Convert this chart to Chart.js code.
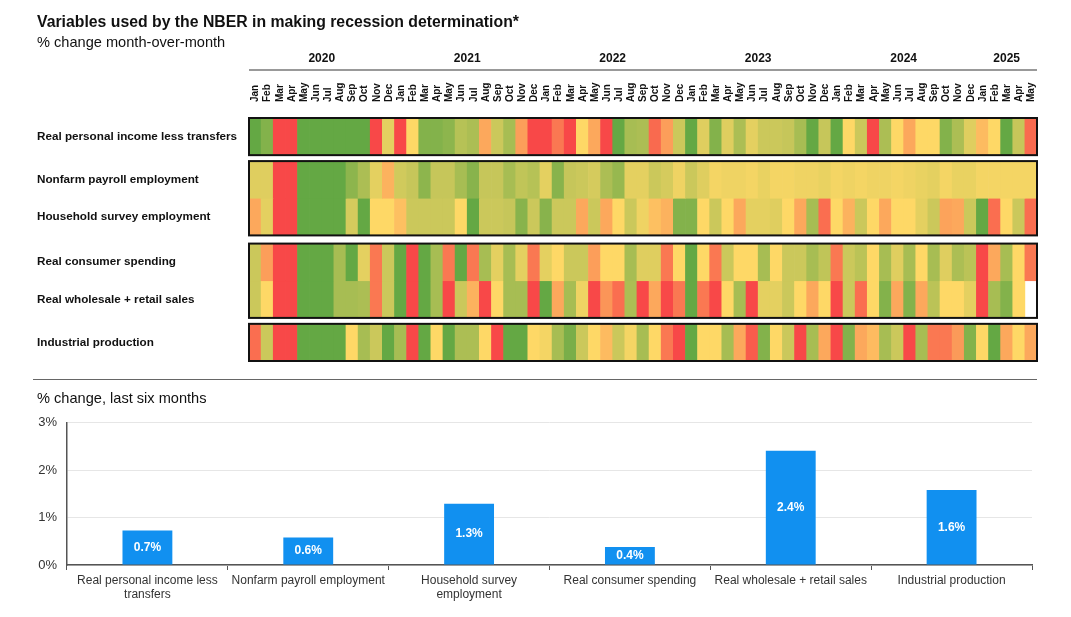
<!DOCTYPE html>
<html>
<head>
<meta charset="utf-8">
<script src="https://cdn.jsdelivr.net/npm/chart.js@4.4.1/dist/chart.umd.min.js"></script>
<style>
  body { margin: 0; width: 1071px; height: 617px; background: #fff; position: relative; overflow: hidden;
         font-family: "Liberation Sans", Arial, sans-serif; color: #111; }
  .t { position: absolute; left: 37px; white-space: nowrap; line-height: 1; }
  #title { top: 14px; font-size: 15.8px; font-weight: bold; }
  #sub1 { top: 35px; font-size: 14.6px; }
  #sub2 { top: 391px; font-size: 14.6px; }
  #sep { position: absolute; left: 33px; top: 379px; width: 1004px; height: 1px; background: #666; }
  #heatWrap { position: absolute; left: 0; top: 0; width: 1071px; height: 372px; }
  #barWrap { position: absolute; left: 0; top: 405px; width: 1071px; height: 212px; }
</style>
</head>
<body>
<div id="heatWrap"><canvas id="heatChart"></canvas></div>
<div id="barWrap"><canvas id="barChart"></canvas></div>
<div class="t" id="title">Variables used by the NBER in making recession determination*</div>
<div class="t" id="sub1">% change month-over-month</div>
<div id="sep"></div>
<div class="t" id="sub2">% change, last six months</div>
<script>
// months Jan 2020 - May 2025
const years = ["2020", "2021", "2022", "2023", "2024", "2025"];
const monthNames = ["Jan", "Feb", "Mar", "Apr", "May", "Jun", "Jul", "Aug", "Sep", "Oct", "Nov", "Dec"];
const lastYearMonths = 5;

const rowNames = [
  "Real personal income less transfers",
  "Nonfarm payroll employment",
  "Household survey employment",
  "Real consumer spending",
  "Real wholesale + retail sales",
  "Industrial production"
];

// colour score per month: -3 = red (weak), 0 = yellow, +3 = green (strong)
const incomeScore = [3, 2.4, -3, -3, 3, 3, 3, 3, 3, 3, -3, 0.5, -3, 0, 2.4, 2.4, 2.2, 1.4, 1.6, -1, 1, 1.7, -1.2, -3, -3, -2, -3, 0, -1, -3, 3, 1.7, 1.6, -2.3, -1.2, 1, 3, 0.6, 2.4, 0.6, 1.6, 0.5, 1, 1, 1.1, 1.7, 3, 1.1, 3, 0, 1, -3, 1.6, 0, -1, 0, 0, 2.4, 1.6, 0.6, -0.6, 0, 3, 1.1, -2.3];
const payrollScore = [0.6, 0.6, -3, -3, 3, 3, 3, 3, 2.2, 1.6, 0.5, -0.8, 0.9, 1.1, 2.2, 1.1, 1.1, 1.7, 2.3, 1.1, 1.1, 1.7, 1.2, 1.4, 0.5, 2.3, 1.1, 1.0, 0.8, 1.6, 2.0, 0.5, 0.5, 1.0, 0.8, 0.3, 1.0, 0.6, 0.2, 0.3, 0.3, 0.2, 0.4, 0.2, 0.2, 0.3, 0.3, 0.4, 0.2, 0.3, 0.2, 0.3, 0.3, 0.2, 0.3, 0.4, 0.5, 0.2, 0.4, 0.4, 0.2, 0.2, 0.2, 0.2, 0.2];
const householdScore = [-1, 0.5, -3, -3, 3, 3, 3, 3, 0.8, 3, 0, 0, -0.5, 1, 1, 1, 1, 0, 3, 1, 1, 1.1, 2.3, 1, 2.3, 1, 1, -1, 1, -1, 0, 1, 0.3, -0.5, -0.8, 2.4, 2.4, 0, 1, 0, -1, 0.5, 0.5, 0.6, 0, -1, 1.7, -2.2, 0, -0.8, 1, 0, -1, 0, 0, 0.5, 1, -1.1, -1, 1, 3, -2.2, 0, 1, -2.2];
const spendingScore = [1, -1.2, -3, -3, 3, 3, 3, 1.7, 3, 0.5, -2, 1, 3, -3, 3, 1.7, -2, 3, -2, 1.7, 0.5, 1.7, 0.5, -2, 0.5, 0, 1, 1, -1.2, 0, 0, 1.7, 0.6, 0.6, -2, 0, 3, 0, -2, 1, 0, 0, 1.7, 0, 1, 1, 1.7, 1.2, -2, 1, 1.3, 0, 1.7, 0.6, 1.7, 0, 1.7, 0.6, 1.6, 1.3, -3, -1, 1.7, 0, -2];
const salesScore = [1, 0, -3, -3, 3, 3, 3, 1.7, 1.7, 1.6, -2, 1, 3, -3, 3, 1.7, -3, 1, -0.8, -3, 0, 1.7, 1.7, -3, 3, -1, 1.7, 0.3, -3, -1.4, -2.2, 1.6, -3, -1, -3, -2, 3, -2, -3, 0, 1.7, -3, 0.5, 0.5, 1, 0, -1, 0, -3, 1, -2.2, 0, 2.4, -1, 2.4, -1, 1.3, 0, 0, 0.5, -3, 1.7, 2.4, 0, null];
const productionScore = [-2.2, 1, -3, -3, 3, 3, 3, 3, 0, 1.7, 1, 3, 1.7, -3, 3, 0, 3, 1.6, 1.6, 0, -3, 3, 3, 0, 0.2, 1.7, 2.6, 1, 0, -0.6, 1, 0.2, 1.7, 0, -2, -3, 3, 0, 0, 1.7, -1, -2.6, 2.4, 0, 1, -3, 1.7, -1, -3, 2.4, -1, -0.6, 1.7, 1, -3, 1.7, -2, -2, -1.3, 2.4, 0, 3, -1, 0, -1];

// bottom panel: % change, last six months
const sixMonthLabels = [
  ["Real personal income less", "transfers"],
  "Nonfarm payroll employment",
  ["Household survey", "employment"],
  "Real consumer spending",
  "Real wholesale + retail sales",
  "Industrial production"
];
const sixMonthValues = [0.73, 0.58, 1.29, 0.38, 2.41, 1.58];
const yTicks = [0, 1, 2, 3];

const FONT = '"Liberation Sans", Arial, sans-serif';
const rowScores = [incomeScore, payrollScore, householdScore, spendingScore, salesScore, productionScore];
const groups = [[0], [1, 2], [3, 4], [5]];
const groupGaps = [0.16, 0.22, 0.16];

const monthLabels = [];
const monthYear = [];
years.forEach((yr, yi) => {
  const n = yi === years.length - 1 ? lastYearMonths : 12;
  for (let m = 0; m < n; m++) {
    monthLabels.push(monthNames[m]);
    monthYear.push(yi);
  }
});

// vertical position of each row (in row-height units), with gaps between boxes
const rowStart = [];
let pos = 0;
groups.forEach((g, gi) => {
  g.forEach((r) => { rowStart[r] = pos; pos += 1; });
  if (gi < groupGaps.length) pos += groupGaps[gi];
});
const rowMax = pos;

const RED = [248, 72, 72], YEL = [254, 216, 102], GRN = [100, 168, 68];
function colorFor(s) {
  if (s === null || s === undefined) return "rgba(0,0,0,0)";
  const t = Math.max(-1, Math.min(1, s / 3));
  const a = t < 0 ? RED : GRN;
  const f = Math.abs(t);
  const c = YEL.map((v, i) => Math.round(v + (a[i] - v) * f));
  return `rgb(${c[0]},${c[1]},${c[2]})`;
}

const heatFrame = {
  id: "heatFrame",
  afterDatasetsDraw(chart) {
    const { ctx, chartArea, scales } = chart;
    const x = scales.x, y = scales.y;
    ctx.save();
    ctx.strokeStyle = "#111";
    ctx.lineWidth = 2;
    groups.forEach((g) => {
      const top = y.getPixelForValue(rowStart[g[0]]);
      const bot = y.getPixelForValue(rowStart[g[g.length - 1]] + 1);
      ctx.strokeRect(chartArea.left, top, chartArea.right - chartArea.left, bot - top);
    });
    // year headers
    ctx.strokeStyle = "#777";
    ctx.lineWidth = 1.5;
    ctx.beginPath();
    ctx.moveTo(chartArea.left, 70);
    ctx.lineTo(chartArea.right, 70);
    ctx.stroke();
    ctx.fillStyle = "#111";
    ctx.font = "bold 12px " + FONT;
    ctx.textAlign = "center";
    ctx.textBaseline = "middle";
    years.forEach((yr, yi) => {
      const idx = monthYear.map((v, i) => (v === yi ? i : -1)).filter((i) => i >= 0);
      const cx = (x.getPixelForValue(idx[0]) + x.getPixelForValue(idx[idx.length - 1])) / 2;
      ctx.fillText(yr, cx, 59);
    });
    // month labels, vertical
    ctx.font = "bold 10px " + FONT;
    ctx.textAlign = "left";
    monthLabels.forEach((m, i) => {
      ctx.save();
      ctx.translate(x.getPixelForValue(i), 102);
      ctx.rotate(-Math.PI / 2);
      ctx.fillText(m, 0, 0.5);
      ctx.restore();
    });
    ctx.restore();
  }
};

new Chart(document.getElementById("heatChart"), {
  type: "bar",
  data: {
    labels: monthLabels,
    datasets: rowScores.map((scores, r) => ({
      label: rowNames[r],
      data: scores.map((s) => (s === null ? null : [rowStart[r], rowStart[r] + 1])),
      backgroundColor: scores.map(colorFor),
      borderWidth: 0,
      grouped: false,
      barPercentage: 1,
      categoryPercentage: 1
    }))
  },
  options: {
    responsive: true,
    maintainAspectRatio: false,
    animation: false,
    layout: { padding: { left: 37, right: 34, top: 0, bottom: 11 } },
    plugins: { legend: { display: false }, tooltip: { enabled: false } },
    scales: {
      x: {
        position: "top",
        grid: { display: false },
        border: { display: false },
        ticks: { display: false },
        afterFit(scale) { scale.height = 118; }
      },
      y: {
        type: "linear",
        min: 0,
        max: rowMax,
        reverse: true,
        grid: { display: false },
        border: { display: false },
        afterBuildTicks(scale) { scale.ticks = rowStart.map((v) => ({ value: v + 0.5 })); },
        afterFit(scale) { scale.width = 212; },
        ticks: {
          autoSkip: false,
          crossAlign: "far",
          color: "#111",
          font: { family: FONT, size: 11.7, weight: "bold" },
          callback: (v, i) => rowNames[i]
        }
      }
    }
  },
  plugins: [heatFrame]
});

const barLabels = {
  id: "barLabels",
  afterDatasetsDraw(chart) {
    const { ctx } = chart;
    const meta = chart.getDatasetMeta(0);
    ctx.save();
    ctx.font = "bold 12px " + FONT;
    ctx.fillStyle = "#fff";
    ctx.textAlign = "center";
    ctx.textBaseline = "middle";
    meta.data.forEach((bar, i) => {
      ctx.fillText(sixMonthValues[i].toFixed(1) + "%", bar.x, (bar.y + bar.base) / 2);
    });
    ctx.restore();
  }
};

new Chart(document.getElementById("barChart"), {
  type: "bar",
  data: {
    labels: sixMonthLabels,
    datasets: [{
      data: sixMonthValues,
      backgroundColor: "#1190F0",
      borderWidth: 0,
      barPercentage: 0.31,
      categoryPercentage: 1
    }]
  },
  options: {
    responsive: true,
    maintainAspectRatio: false,
    animation: false,
    layout: { padding: { left: 0, right: 39, top: 16, bottom: 0 } },
    plugins: { legend: { display: false }, tooltip: { enabled: false } },
    scales: {
      x: {
        grid: { display: true, drawOnChartArea: false, offset: true, tickLength: 5, color: "#555" },
        border: { display: true, color: "#555", width: 1.5 },
        ticks: { padding: 3, color: "#333", font: { family: FONT, size: 12 } },
        afterFit(scale) { scale.height = 52; }
      },
      y: {
        min: 0,
        max: 3,
        afterBuildTicks(scale) { scale.ticks = yTicks.map((v) => ({ value: v })); },
        afterFit(scale) { scale.width = 67; },
        grid: { color: "#e6e6e6", drawTicks: false },
        border: { display: true, color: "#555", width: 1.5 },
        ticks: { padding: 10, color: "#333", font: { family: FONT, size: 13 }, callback: (v) => v + "%" }
      }
    }
  },
  plugins: [barLabels]
});
</script>
</body>
</html>
